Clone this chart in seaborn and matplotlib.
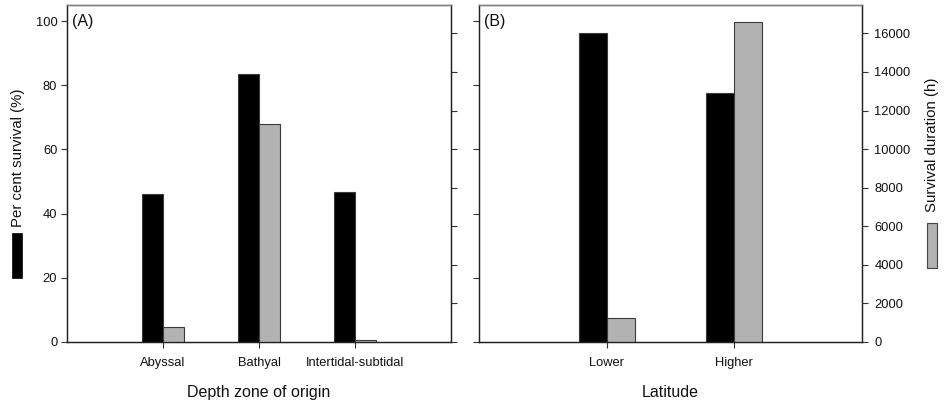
import matplotlib
matplotlib.use("Agg")
import matplotlib.pyplot as plt
from matplotlib.patches import Rectangle
import pandas as pd
import seaborn as sns

# ---- data ----
depth_zones = ["Abyssal", "Bathyal", "Intertidal-subtidal"]
depth_survival_pct = [46.2, 83.6, 46.6]
depth_duration_h = [790, 11290, 100]

latitudes = ["Lower", "Higher"]
lat_survival_pct = [96.4, 77.5]
lat_duration_h = [1230, 16590]

pct_ticks = [0, 20, 40, 60, 80, 100]
dur_ticks = [0, 2000, 4000, 6000, 8000, 10000, 12000, 14000, 16000]

sns.set_style("ticks")
plt.rcParams["font.family"] = ["Liberation Sans", "DejaVu Sans"]
plt.rcParams["text.color"] = "#111111"
plt.rcParams["axes.labelcolor"] = "#111111"
plt.rcParams["xtick.labelcolor"] = "#111111"
plt.rcParams["ytick.labelcolor"] = "#111111"

BLACK = "#000000"
GRAY = "#b2b2b2"
EDGE = "#3a3a3a"
palette = {"pct": BLACK, "dur": GRAY}
TICK_FS = 9.3
LABEL_FS = 11.5
YLABEL_FS = 10.8

fig = plt.figure(figsize=(9.45, 4.01), dpi=100)
W, H = 945, 401


def make_axes(x0, x1, y0=5, y1=342):
    return fig.add_axes([x0 / W, (H - y1) / H, (x1 - x0) / W, (y1 - y0) / H])


def panel(ax, cats, pct, dur, xlabel, tag, show_left, show_right):
    ax2 = ax.twinx()
    df_p = pd.DataFrame({"cat": cats, "value": pct, "metric": "pct"})
    df_d = pd.DataFrame({"cat": cats, "value": dur, "metric": "dur"})
    sns.barplot(data=df_p, x="cat", y="value", hue="metric", hue_order=["pct", "dur"],
                order=cats, palette=palette, dodge=True, width=0.44, errorbar=None,
                edgecolor=EDGE, linewidth=0.8, legend=False, ax=ax)
    sns.barplot(data=df_d, x="cat", y="value", hue="metric", hue_order=["pct", "dur"],
                order=cats, palette=palette, dodge=True, width=0.44, errorbar=None,
                edgecolor=EDGE, linewidth=0.8, legend=False, ax=ax2)
    n = len(cats)
    ax.set_xlim(-1, n)
    ax2.set_xlim(-1, n)
    ax.set_ylim(0, 105)
    ax2.set_ylim(0, 17470)
    ax.set_yticks(pct_ticks)
    ax2.set_yticks(dur_ticks)
    ax.set_xticks(range(n))
    ax.set_xticklabels(cats, fontsize=TICK_FS)
    ax.set_xlabel(xlabel, fontsize=LABEL_FS, labelpad=11)
    ax.set_ylabel("")
    ax2.set_ylabel("")
    ax.tick_params(axis="x", direction="out", length=4, width=0.8, color="#333333",
                   labelsize=TICK_FS, pad=7)
    ax.tick_params(axis="y", direction="out", length=4, width=0.8, color="#333333",
                   labelsize=TICK_FS, pad=3)
    ax2.tick_params(axis="y", direction="out", length=4, width=0.8, color="#333333",
                    labelsize=TICK_FS, pad=5)
    if not show_left:
        ax.set_yticklabels([])
    if not show_right:
        ax2.set_yticklabels([])
    for a in (ax, ax2):
        for side in ("left", "right", "bottom"):
            a.spines[side].set_visible(True)
            a.spines[side].set_color("#222222")
            a.spines[side].set_linewidth(0.9)
        a.spines["top"].set_visible(True)
        a.spines["top"].set_color("#808080")
        a.spines["top"].set_linewidth(1.0)
    ax.text(0.012, 0.95, tag, transform=ax.transAxes, fontsize=11.5, ha="left", va="center")
    return ax2


axA = make_axes(67, 451)
panel(axA, depth_zones, depth_survival_pct, depth_duration_h,
      "Depth zone of origin", "(A)", True, False)

axB = make_axes(479, 862)
panel(axB, latitudes, lat_survival_pct, lat_duration_h,
      "Latitude", "(B)", False, True)

# y-axis titles with legend swatches
fig.text(18.5 / W, 1 - 158 / H, "Per cent survival (%)", rotation=90, fontsize=YLABEL_FS,
         ha="center", va="center")
fig.patches.append(Rectangle((12 / W, 1 - 278 / H), 10 / W, 45 / H, transform=fig.transFigure,
                             facecolor=BLACK, edgecolor=BLACK, linewidth=0.5, figure=fig))
fig.text(932 / W, 1 - 145 / H, "Survival duration (h)", rotation=90, fontsize=YLABEL_FS,
         ha="center", va="center")
fig.patches.append(Rectangle((927 / W, 1 - 268 / H), 10 / W, 45 / H, transform=fig.transFigure,
                             facecolor=GRAY, edgecolor="#444444", linewidth=0.8, figure=fig))

fig.savefig("out.png", dpi=100)
